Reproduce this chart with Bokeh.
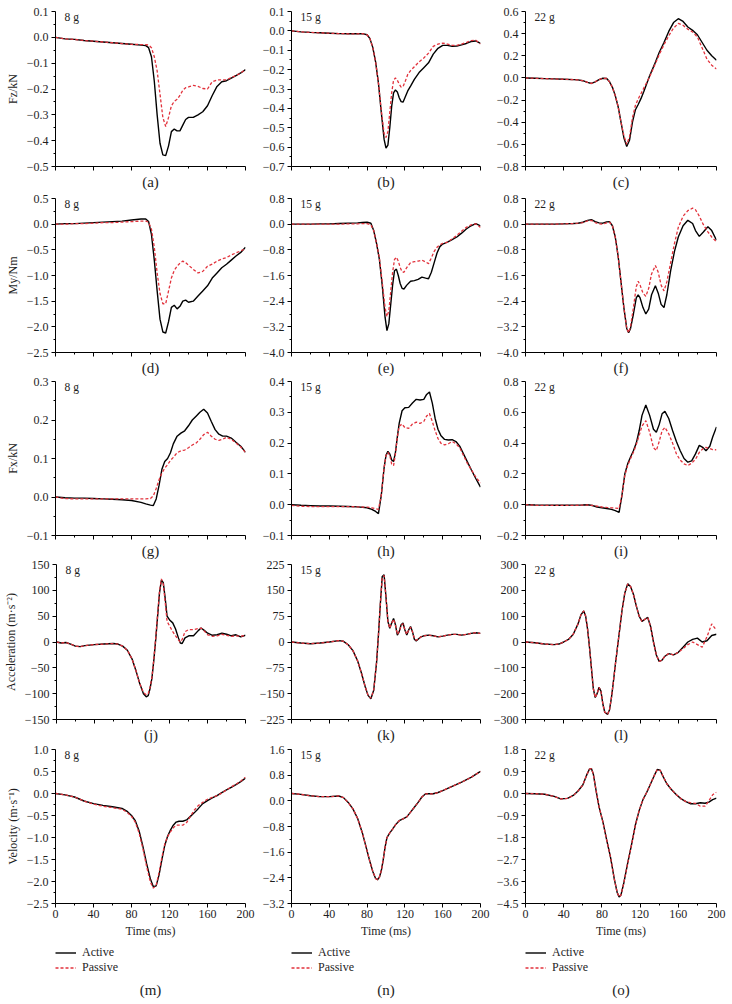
import numpy as np
from bokeh.plotting import figure
from bokeh.layouts import column, row
from bokeh.models import FixedTicker, CustomJSTickFormatter, Label, Title, Range1d, Legend, LegendItem
from bokeh.embed import file_html
from bokeh.resources import INLINE

# ---------------- data ----------------
masses = ["8 g", "15 g", "22 g"]
letters = ["(a)", "(b)", "(c)", "(d)", "(e)", "(f)", "(g)", "(h)", "(i)",
           "(j)", "(k)", "(l)", "(m)", "(n)", "(o)"]
ylabels = ["Fz/kN", "My/Nm", "Fx/kN", "Acceleration (m·s⁻²)", "Velocity (m·s⁻¹)"]
x_ticks = [0, 40, 80, 120, 160, 200]
series_names = ["Active", "Passive"]

# (a) Fz 8 g
t_a = [0,10,20,30,40,50,60,70,80,90,95,98,101,104,107,110,113,116,119,122,125,128,131,134,137,140,145,150,155,160,165,170,175,180,185,190,195,200]
act_a = [0.000,-0.006,-0.008,-0.012,-0.015,-0.018,-0.021,-0.024,-0.027,-0.030,-0.032,-0.040,-0.075,-0.170,-0.300,-0.410,-0.455,-0.458,-0.420,-0.365,-0.355,-0.362,-0.362,-0.340,-0.318,-0.310,-0.310,-0.300,-0.288,-0.265,-0.225,-0.190,-0.172,-0.168,-0.158,-0.148,-0.138,-0.125]
pas_a = [0.000,-0.006,-0.008,-0.012,-0.015,-0.018,-0.021,-0.024,-0.027,-0.028,-0.028,-0.030,-0.040,-0.075,-0.130,-0.220,-0.310,-0.345,-0.310,-0.265,-0.248,-0.240,-0.225,-0.205,-0.195,-0.192,-0.186,-0.190,-0.198,-0.200,-0.172,-0.165,-0.165,-0.165,-0.156,-0.148,-0.138,-0.125]

# (b) Fz 15 g
t_b = [0,10,20,30,40,50,60,70,75,80,83,86,89,92,95,98,100,102,104,106,108,110,112,114,116,118,120,123,126,130,135,140,145,150,155,160,165,170,175,180,185,190,195,200]
act_b = [0.000,-0.005,-0.008,-0.010,-0.012,-0.014,-0.015,-0.015,-0.014,-0.020,-0.040,-0.085,-0.160,-0.270,-0.420,-0.560,-0.605,-0.590,-0.500,-0.390,-0.320,-0.305,-0.315,-0.345,-0.365,-0.368,-0.345,-0.310,-0.285,-0.250,-0.215,-0.190,-0.165,-0.120,-0.090,-0.075,-0.075,-0.080,-0.078,-0.072,-0.065,-0.055,-0.052,-0.065]
pas_b = [0.000,-0.005,-0.008,-0.010,-0.012,-0.014,-0.015,-0.015,-0.014,-0.020,-0.040,-0.085,-0.160,-0.270,-0.410,-0.530,-0.550,-0.520,-0.420,-0.320,-0.255,-0.243,-0.255,-0.275,-0.290,-0.288,-0.265,-0.225,-0.205,-0.185,-0.160,-0.140,-0.115,-0.080,-0.068,-0.063,-0.068,-0.075,-0.075,-0.068,-0.060,-0.050,-0.048,-0.068]

# (c) Fz 22 g
t_c = [0,10,20,30,40,50,55,60,65,69,73,77,81,85,88,91,94,97,100,103,106,109,112,115,118,121,124,127,130,135,140,145,150,155,160,165,170,175,180,185,190,195,200]
act_c = [0.000,-0.003,-0.006,-0.009,-0.012,-0.015,-0.018,-0.025,-0.040,-0.050,-0.035,-0.015,-0.003,-0.005,-0.035,-0.085,-0.160,-0.260,-0.400,-0.540,-0.620,-0.560,-0.400,-0.290,-0.240,-0.185,-0.120,-0.050,0.020,0.120,0.230,0.320,0.420,0.500,0.535,0.510,0.460,0.430,0.390,0.320,0.250,0.200,0.160]
pas_c = [0.000,-0.003,-0.006,-0.009,-0.012,-0.015,-0.018,-0.025,-0.040,-0.050,-0.035,-0.015,-0.003,-0.005,-0.035,-0.085,-0.160,-0.260,-0.400,-0.520,-0.600,-0.530,-0.360,-0.250,-0.190,-0.140,-0.090,-0.040,0.010,0.110,0.210,0.300,0.380,0.450,0.492,0.475,0.440,0.415,0.370,0.270,0.170,0.115,0.080]

# (d) My 8 g
t_d = [0,10,20,30,40,50,60,70,80,90,95,98,101,104,107,110,113,116,119,122,125,128,131,134,137,140,145,150,155,160,165,170,175,180,185,190,195,200]
act_d = [0.00,0.01,0.01,0.02,0.03,0.04,0.05,0.06,0.08,0.10,0.10,0.05,-0.20,-0.70,-1.30,-1.85,-2.10,-2.12,-1.90,-1.62,-1.58,-1.65,-1.60,-1.50,-1.48,-1.52,-1.50,-1.40,-1.30,-1.20,-1.05,-0.95,-0.85,-0.78,-0.70,-0.62,-0.55,-0.45]
pas_d = [0.00,0.00,0.01,0.01,0.02,0.03,0.03,0.04,0.05,0.06,0.06,0.04,-0.10,-0.45,-0.95,-1.35,-1.55,-1.55,-1.30,-1.05,-0.90,-0.82,-0.76,-0.72,-0.75,-0.80,-0.88,-0.95,-0.92,-0.82,-0.78,-0.72,-0.68,-0.65,-0.60,-0.56,-0.52,-0.48]

# (e) My 15 g
t_e = [0,10,20,30,40,50,60,70,75,80,84,87,90,93,96,99,101,103,105,107,109,111,113,115,117,119,122,126,130,134,138,142,145,148,151,154,157,160,165,170,175,180,185,190,195,200]
act_e = [0.00,0.00,0.00,0.01,0.01,0.02,0.03,0.04,0.05,0.06,0.03,-0.20,-0.60,-1.10,-1.90,-2.90,-3.32,-3.10,-2.50,-1.90,-1.45,-1.40,-1.60,-1.85,-2.00,-2.02,-1.90,-1.78,-1.76,-1.72,-1.65,-1.68,-1.70,-1.50,-1.20,-0.90,-0.70,-0.62,-0.56,-0.48,-0.40,-0.28,-0.15,-0.05,0.02,-0.05]
pas_e = [0.00,0.00,0.00,0.00,0.00,0.00,0.01,0.01,0.02,0.02,-0.02,-0.20,-0.60,-1.05,-1.80,-2.60,-2.88,-2.70,-2.10,-1.50,-1.10,-1.03,-1.15,-1.35,-1.48,-1.50,-1.35,-1.20,-1.17,-1.15,-1.12,-1.18,-1.23,-1.05,-0.85,-0.72,-0.64,-0.60,-0.56,-0.46,-0.35,-0.22,-0.10,-0.02,0.01,-0.10]

# (f) My 22 g
t_f = [0,10,20,30,40,50,55,60,65,69,73,77,81,85,88,91,94,97,100,103,106,108,110,113,116,118,120,123,126,129,132,136,139,142,145,148,152,156,160,165,170,175,178,182,186,191,195,200]
act_f = [0.00,0.00,0.00,0.00,0.01,0.02,0.03,0.06,0.12,0.14,0.08,0.04,0.03,0.07,0.08,-0.05,-0.40,-1.00,-1.80,-2.60,-3.25,-3.38,-3.25,-2.80,-2.30,-2.20,-2.30,-2.60,-2.80,-2.65,-2.20,-1.92,-2.15,-2.50,-2.60,-2.20,-1.45,-0.85,-0.40,-0.05,0.12,0.02,-0.20,-0.38,-0.25,-0.08,-0.20,-0.50]
pas_f = [0.00,0.00,0.00,0.00,0.01,0.02,0.03,0.05,0.10,0.12,0.05,0.01,0.00,0.04,0.06,-0.05,-0.40,-1.00,-1.80,-2.60,-3.25,-3.38,-3.20,-2.60,-1.95,-1.78,-1.90,-2.15,-2.25,-2.00,-1.55,-1.29,-1.50,-1.90,-2.08,-1.80,-1.20,-0.60,-0.10,0.25,0.42,0.50,0.45,0.25,0.00,-0.24,-0.40,-0.55]

# (g) Fx 8 g
t_g = [0,10,20,30,40,50,60,70,80,90,95,100,103,106,109,112,115,118,121,124,128,132,136,140,144,148,152,156,160,164,168,172,176,180,185,190,195,200]
act_g = [0.000,-0.002,-0.003,-0.003,-0.004,-0.005,-0.006,-0.007,-0.009,-0.014,-0.018,-0.021,-0.022,-0.005,0.030,0.072,0.092,0.100,0.115,0.138,0.158,0.166,0.172,0.185,0.200,0.210,0.220,0.228,0.218,0.196,0.175,0.163,0.158,0.158,0.153,0.142,0.132,0.116]
pas_g = [0.000,-0.004,-0.005,-0.005,-0.005,-0.005,-0.005,-0.005,-0.005,-0.005,-0.005,-0.004,0.003,0.022,0.045,0.062,0.075,0.084,0.095,0.103,0.115,0.120,0.122,0.128,0.135,0.140,0.150,0.162,0.168,0.158,0.150,0.147,0.150,0.155,0.150,0.140,0.130,0.116]

# (h) Fx 15 g
t_h = [0,10,20,30,40,50,60,70,80,85,89,92,95,98,100,102,104,106,108,110,112,114,117,120,124,128,132,136,140,143,146,149,152,155,158,162,166,170,174,178,182,186,190,195,200]
act_h = [0.000,-0.002,-0.003,-0.004,-0.004,-0.005,-0.006,-0.007,-0.010,-0.015,-0.022,-0.029,0.030,0.120,0.160,0.173,0.165,0.145,0.140,0.170,0.220,0.265,0.305,0.315,0.316,0.330,0.342,0.340,0.342,0.358,0.366,0.330,0.280,0.245,0.225,0.212,0.210,0.211,0.205,0.190,0.165,0.140,0.115,0.085,0.057]
pas_h = [-0.002,-0.005,-0.006,-0.006,-0.006,-0.006,-0.006,-0.007,-0.008,-0.010,-0.013,-0.015,0.030,0.120,0.160,0.170,0.160,0.132,0.127,0.165,0.220,0.255,0.262,0.250,0.248,0.262,0.268,0.264,0.270,0.288,0.296,0.270,0.240,0.215,0.200,0.194,0.198,0.205,0.198,0.185,0.160,0.135,0.115,0.090,0.070]

# (i) Fx 22 g
t_i = [0,10,20,30,40,50,60,65,70,75,80,85,90,94,98,101,104,107,110,113,116,119,122,126,130,134,137,140,143,146,150,154,158,162,166,170,174,178,182,186,189,193,196,200]
act_i = [0.000,-0.002,-0.003,-0.004,-0.004,-0.003,-0.002,0.000,-0.005,-0.015,-0.020,-0.025,-0.030,-0.038,-0.050,0.060,0.200,0.265,0.310,0.350,0.400,0.480,0.580,0.648,0.580,0.490,0.470,0.520,0.590,0.606,0.560,0.482,0.410,0.350,0.300,0.276,0.285,0.330,0.385,0.370,0.350,0.380,0.440,0.505]
pas_i = [0.000,-0.004,-0.005,-0.005,-0.005,-0.004,-0.003,-0.002,-0.005,-0.010,-0.015,-0.018,-0.020,-0.022,-0.025,0.060,0.190,0.255,0.300,0.340,0.390,0.450,0.510,0.546,0.470,0.370,0.352,0.410,0.480,0.502,0.460,0.400,0.330,0.290,0.265,0.254,0.270,0.295,0.340,0.365,0.372,0.365,0.358,0.356]

# (j) acceleration 8 g
t_j = [0,5,10,15,20,25,30,40,50,60,65,70,75,80,84,88,92,95,97,99,101,103,105,107,109,111,113,115,117,120,123,126,129,131,133,136,140,145,150,153,156,160,165,170,175,180,185,190,195,200]
act_j = [0,-2,-1,-4,-8,-9,-7,-5,-4,-3,-4,-8,-16,-33,-55,-80,-100,-106,-104,-90,-70,-35,5,50,95,120,115,85,50,42,37,25,8,-2,-3,8,12,12,22,27,23,17,13,14,17,15,12,14,10,13]
pas_j = [0,-2,-1,-4,-8,-9,-7,-5,-4,-3,-4,-8,-16,-33,-55,-80,-98,-102,-100,-88,-68,-33,8,53,98,122,112,78,40,30,20,12,4,0,5,20,24,24,26,27,22,14,11,12,15,13,11,12,11,13]

# (k) acceleration 15 g
t_k = [0,10,20,30,40,50,55,60,65,70,74,78,81,84,87,90,92,94,96,98,100,102,104,106,108,110,112,114,116,118,120,122,124,126,128,130,132,134,137,140,145,150,155,160,165,170,175,180,185,190,195,200]
act_k = [0,-3,-5,-3,0,4,2,-8,-25,-55,-90,-130,-155,-165,-140,-60,20,110,190,195,130,60,40,55,68,50,20,30,50,55,35,20,35,45,30,8,3,8,15,18,20,18,15,17,20,22,22,20,22,25,27,25]
pas_k = [0,-3,-5,-3,0,4,2,-8,-25,-55,-90,-130,-155,-163,-140,-60,20,110,188,193,130,60,40,55,66,50,22,30,48,53,35,22,35,43,30,10,5,8,15,18,20,18,15,17,20,22,22,20,22,25,27,25]

# (l) acceleration 22 g
t_l = [0,10,20,30,35,40,45,50,55,58,61,63,65,67,69,71,73,75,77,79,81,83,86,88,90,92,94,96,98,101,104,107,110,113,116,119,122,125,128,131,134,137,140,143,146,150,155,160,165,170,175,180,185,190,195,200]
act_l = [0,-3,-8,-10,-8,0,10,30,70,105,120,100,50,-20,-100,-180,-215,-200,-175,-190,-240,-272,-280,-262,-215,-155,-90,-30,30,120,190,225,215,185,140,100,80,88,95,60,0,-50,-75,-70,-55,-45,-50,-40,-20,0,10,15,0,5,25,30]
pas_l = [0,-3,-8,-10,-8,0,10,30,70,105,120,100,50,-20,-100,-180,-215,-200,-175,-190,-240,-272,-280,-262,-215,-155,-90,-30,30,120,190,225,215,185,140,100,80,88,95,60,0,-50,-75,-70,-55,-45,-50,-40,-25,-10,0,-10,-20,20,70,45]

# (m) velocity 8 g
t_m = [0,10,20,30,40,50,60,70,75,80,84,88,92,96,100,103,106,109,112,115,118,121,124,127,130,134,138,142,146,150,155,160,165,170,175,180,185,190,195,200]
act_m = [0.00,-0.03,-0.08,-0.17,-0.23,-0.27,-0.30,-0.34,-0.40,-0.50,-0.62,-0.85,-1.20,-1.60,-1.95,-2.12,-2.10,-1.85,-1.50,-1.18,-0.97,-0.83,-0.72,-0.65,-0.63,-0.63,-0.60,-0.52,-0.44,-0.35,-0.23,-0.16,-0.10,-0.05,0.02,0.08,0.14,0.20,0.27,0.35]
pas_m = [0.00,-0.03,-0.08,-0.17,-0.24,-0.29,-0.32,-0.36,-0.42,-0.52,-0.65,-0.90,-1.25,-1.67,-2.02,-2.15,-2.08,-1.80,-1.45,-1.15,-0.98,-0.87,-0.78,-0.72,-0.72,-0.72,-0.66,-0.52,-0.38,-0.28,-0.20,-0.13,-0.09,-0.05,0.01,0.08,0.15,0.21,0.28,0.37]

# (n) velocity 15 g
t_n = [0,10,20,30,40,50,55,60,65,70,75,79,83,86,89,91,93,95,97,99,101,104,107,110,114,118,122,126,130,134,138,142,146,150,155,160,170,180,190,200]
act_n = [0.23,0.20,0.16,0.13,0.13,0.15,0.10,-0.05,-0.25,-0.55,-1.00,-1.45,-1.90,-2.20,-2.42,-2.46,-2.38,-2.18,-1.85,-1.45,-1.15,-1.00,-0.88,-0.75,-0.62,-0.56,-0.50,-0.35,-0.20,-0.05,0.12,0.22,0.22,0.22,0.26,0.32,0.45,0.58,0.73,0.92]
pas_n = [0.23,0.20,0.16,0.13,0.13,0.15,0.10,-0.05,-0.25,-0.55,-1.00,-1.45,-1.90,-2.20,-2.42,-2.46,-2.38,-2.18,-1.85,-1.45,-1.15,-1.00,-0.88,-0.75,-0.62,-0.56,-0.50,-0.35,-0.20,-0.05,0.12,0.22,0.22,0.22,0.26,0.32,0.45,0.58,0.73,0.92]

# (o) velocity 22 g
t_o = [0,10,20,30,37,44,50,55,60,64,67,69,71,74,77,81,85,89,93,96,98,100,103,107,111,115,119,123,127,131,135,138,141,144,148,153,158,163,168,173,178,183,188,192,196,200]
act_o = [0.00,-0.01,-0.03,-0.12,-0.22,-0.20,-0.08,0.10,0.35,0.75,1.00,1.02,0.80,0.10,-0.55,-1.15,-1.90,-2.60,-3.50,-4.05,-4.23,-4.15,-3.65,-2.85,-2.10,-1.30,-0.70,-0.25,0.05,0.40,0.75,0.98,0.95,0.70,0.40,0.15,-0.05,-0.22,-0.33,-0.42,-0.42,-0.38,-0.40,-0.35,-0.25,-0.19]
pas_o = [0.00,-0.01,-0.03,-0.12,-0.22,-0.20,-0.08,0.10,0.35,0.75,1.00,1.02,0.80,0.10,-0.55,-1.15,-1.90,-2.60,-3.50,-4.05,-4.23,-4.15,-3.65,-2.85,-2.10,-1.30,-0.70,-0.25,0.05,0.40,0.75,0.98,0.95,0.70,0.40,0.15,-0.05,-0.22,-0.33,-0.38,-0.40,-0.52,-0.52,-0.30,-0.05,0.05]

# y axes: (low, high, step, decimals)
y_axes = [
    (-0.5, 0.1, 0.1, 1), (-0.7, 0.1, 0.1, 1), (-0.8, 0.6, 0.2, 1),
    (-2.5, 0.5, 0.5, 1), (-4.0, 0.8, 0.8, 1), (-4.0, 0.8, 0.8, 1),
    (-0.1, 0.3, 0.1, 1), (-0.1, 0.4, 0.1, 1), (-0.2, 0.8, 0.2, 1),
    (-150, 150, 50, 0), (-225, 225, 75, 0), (-300, 300, 100, 0),
    (-2.5, 1.0, 0.5, 1), (-3.2, 1.6, 0.8, 1), (-4.5, 1.8, 0.9, 1),
]
times = [t_a, t_b, t_c, t_d, t_e, t_f, t_g, t_h, t_i, t_j, t_k, t_l, t_m, t_n, t_o]
actives = [act_a, act_b, act_c, act_d, act_e, act_f, act_g, act_h, act_i, act_j, act_k, act_l, act_m, act_n, act_o]
passives = [pas_a, pas_b, pas_c, pas_d, pas_e, pas_f, pas_g, pas_h, pas_i, pas_j, pas_k, pas_l, pas_m, pas_n, pas_o]

# ---------------- styling / layout ----------------
FONT = "Liberation Serif"
RED = "#e2323c"
TXT = "#1e1e1e"
col_widths = [255, 235, 241]
col_left = [55, 36, 35]
col_right = [10, 10, 15]
row_tops = [11, 8, 5, 5, 6]
row_frames = [155, 154, 154, 155, 154]
row_bottoms = [24, 24, 24, 24, 38]
legend_fig_h = 59
legend_frame_top = 4
legend_frame_bottom = 23

cells = []
for idx in range(15):
    r, c = divmod(idx, 3)
    lo, hi, step, dec = y_axes[idx]
    last = (r == 4)
    p = figure(width=col_widths[c], height=row_tops[r] + row_frames[r] + row_bottoms[r],
               x_range=Range1d(0, 200), y_range=Range1d(lo, hi),
               output_backend="svg", toolbar_location=None,
               min_border_left=col_left[c], min_border_right=col_right[c],
               min_border_top=row_tops[r], min_border_bottom=row_bottoms[r])
    p.outline_line_color = None
    p.grid.visible = False

    n = int(round((hi - lo) / step))
    ticks = [round(lo + i * step, 6) for i in range(n + 1)]
    minors = [round(lo + (i + 0.5) * step, 6) for i in range(n)]
    p.yaxis.ticker = FixedTicker(ticks=ticks, minor_ticks=minors)
    p.yaxis.formatter = CustomJSTickFormatter(
        code="var s = tick.toFixed(%d); if (Math.abs(tick) < 1e-9) { s = (0).toFixed(%d); } return s.replace('-', '\u2212');" % (dec, dec))
    p.xaxis.ticker = FixedTicker(ticks=x_ticks,
                                 minor_ticks=[x_ticks[i] + 20 for i in range(len(x_ticks) - 1)])

    for ax in (p.xaxis[0], p.yaxis[0]):
        ax.axis_line_color = "black"
        ax.axis_line_width = 1
        ax.major_tick_line_color = "black"
        ax.minor_tick_line_color = "black"
        ax.major_tick_in = 0
        ax.major_tick_out = 4
        ax.minor_tick_in = 0
        ax.minor_tick_out = 2
        ax.major_label_text_font = FONT
        ax.major_label_text_font_size = "12px"
        ax.major_label_text_color = TXT
        ax.axis_label_text_font = FONT
        ax.axis_label_text_font_style = "normal"
        ax.axis_label_text_font_size = "12px"
        ax.axis_label_text_color = TXT
    p.yaxis.major_label_standoff = 3
    p.yaxis.axis_label_standoff = 4
    if c == 0:
        p.yaxis.axis_label = ylabels[r]

    t = times[idx]
    p.line(t, actives[idx], line_color="black", line_width=1.4)
    p.line(t, passives[idx], line_color=RED, line_width=1.3, line_dash="3 2")

    p.add_layout(Label(x=0, y=hi, x_offset=9, y_offset=-5, text=masses[c],
                       text_baseline="middle", text_font=FONT, text_font_size="11.5px",
                       text_color=TXT))

    if last:
        p.xaxis.axis_label = "Time (ms)"
        p.xaxis.major_label_standoff = 2
        p.xaxis.axis_label_standoff = 3
        # legend panel under the plot, with the panel letter below it
        q = figure(width=col_widths[c], height=legend_fig_h,
                   x_range=Range1d(0, 1), y_range=Range1d(0, 1),
                   output_backend="svg", toolbar_location=None,
                   x_axis_location=None, y_axis_location=None,
                   min_border_left=col_left[c], min_border_right=col_right[c],
                   min_border_top=legend_frame_top, min_border_bottom=legend_frame_bottom)
        q.outline_line_color = None
        q.grid.visible = False
        # legend-key proxies (no visible data)
        k_act = q.line(np.array([np.nan]), np.array([np.nan]), line_color="black", line_width=1.4)
        k_pas = q.line(np.array([np.nan]), np.array([np.nan]), line_color=RED, line_width=1.3, line_dash="3 2")
        lg = Legend(items=[LegendItem(label=series_names[0], renderers=[k_act]),
                           LegendItem(label=series_names[1], renderers=[k_pas])],
                    location="top_left", orientation="vertical")
        lg.border_line_color = None
        lg.background_fill_alpha = 0
        lg.padding = 0
        lg.margin = 0
        lg.spacing = 0
        lg.glyph_width = 21
        lg.glyph_height = 15
        lg.label_height = 15
        lg.label_standoff = 6
        lg.label_text_font = FONT
        lg.label_text_font_size = "12px"
        lg.label_text_color = TXT
        q.add_layout(lg, "center")
        q.add_layout(Title(text=letters[idx], align="center", text_font=FONT,
                           text_font_size="15px", text_font_style="normal",
                           text_color=TXT, standoff=4), "below")
        cells.append(column(p, q))
    else:
        p.xaxis.major_label_text_font_size = "1px"
        p.xaxis.major_label_text_color = None
        p.xaxis.major_label_standoff = 0
        p.add_layout(Title(text=letters[idx], align="center", text_font=FONT,
                           text_font_size="15px", text_font_style="normal",
                           text_color=TXT, standoff=2), "below")
        cells.append(p)

layout = column(*[row(*cells[i * 3:(i + 1) * 3]) for i in range(5)])
open("out.html", "w").write(file_html(layout, INLINE))
